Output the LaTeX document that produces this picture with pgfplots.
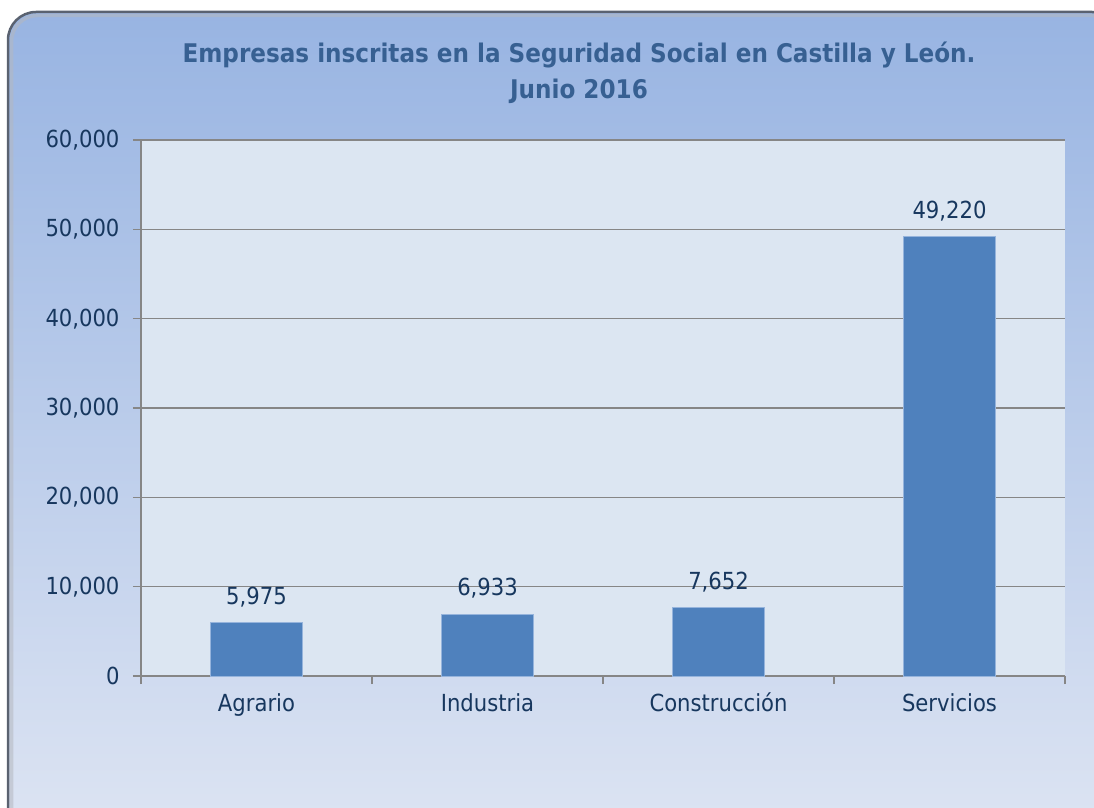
\documentclass[border=0pt]{standalone}
\usepackage{fontspec}
\setmainfont{DejaVu Sans Condensed}
\usepackage{pgfplots}
\pgfplotsset{compat=1.18}
\definecolor{barblue}{RGB}{79,129,189}
\definecolor{baredge}{RGB}{150,180,220}
\definecolor{txt}{RGB}{23,55,94}
\definecolor{ttl}{RGB}{55,96,146}
\definecolor{gridc}{RGB}{134,134,134}
\definecolor{plotbg}{RGB}{220,230,242}
\definecolor{bgtop}{RGB}{152,180,226}
\definecolor{bgbot}{RGB}{222,229,243}
\definecolor{frame}{RGB}{90,98,112}
\begin{document}
\begin{tikzpicture}[x=1pt,y=1pt]
\useasboundingbox (0,0) rectangle (1094,807);
\begin{scope}
\clip (0,0) rectangle (1094,807);
\shade[rounded corners=28pt, top color=bgtop, bottom color=bgbot] (8,-40) rectangle (1120,795);
\draw[rounded corners=28pt, draw=frame, line width=2.5pt] (8,-40) rectangle (1120,795);
\draw[rounded corners=26pt, draw=frame!45, line width=3.5pt, opacity=0.55] (11.5,-40) rectangle (1117,791.5);
\end{scope}
\node[font=\fontsize{25.7}{36}\selectfont\bfseries, text=ttl, align=center] at (579,734) {Empresas inscritas en la Seguridad Social en Castilla y León.\\Junio 2016};
\begin{axis}[
  at={(141pt,131pt)}, anchor=south west,
  width=924pt, height=536pt, scale only axis,
  xmin=-0.5, xmax=3.5, ymin=0, ymax=60000,
  ybar, bar width=92pt,
  axis background/.style={fill=plotbg},
  axis x line*=bottom, axis y line*=left,
  axis line style={draw=gridc, line width=1.6pt, -},
  ymajorgrids, grid style={draw=gridc, line width=1.5pt},
  ytick={0,10000,...,60000},
  xtick={0,1,2,3},
  xticklabels={Agrario,Industria,Construcción,Servicios},
  major x tick style={draw=none},
  minor xtick={-0.5,0.5,1.5,2.5,3.5},
  minor x tick style={draw=gridc, line width=1.6pt},
  minor tick length=8pt,
  major tick length=8pt,
  y tick style={draw=gridc, line width=1.6pt},
  tick align=outside,
  scaled y ticks=false,
  /pgf/number format/.cd, 1000 sep={,}, assume math mode=true,
  /pgfplots/.cd,
  yticklabel style={font=\fontsize{23.5}{27}\selectfont, text=txt, xshift=-10pt},
  xticklabel style={font=\fontsize{23.5}{27}\selectfont, text=txt, yshift=-7pt, text height=17pt, text depth=5pt},
  nodes near coords,
  nodes near coords style={font=\fontsize{23.5}{27}\selectfont, text=txt, anchor=south, inner sep=0pt, yshift=15pt},
  clip=false,
]
\addplot[fill=barblue, draw=baredge, line width=0.8pt] coordinates {(0,5975) (1,6933) (2,7652) (3,49220)};
\end{axis}
\end{tikzpicture}
\end{document}
